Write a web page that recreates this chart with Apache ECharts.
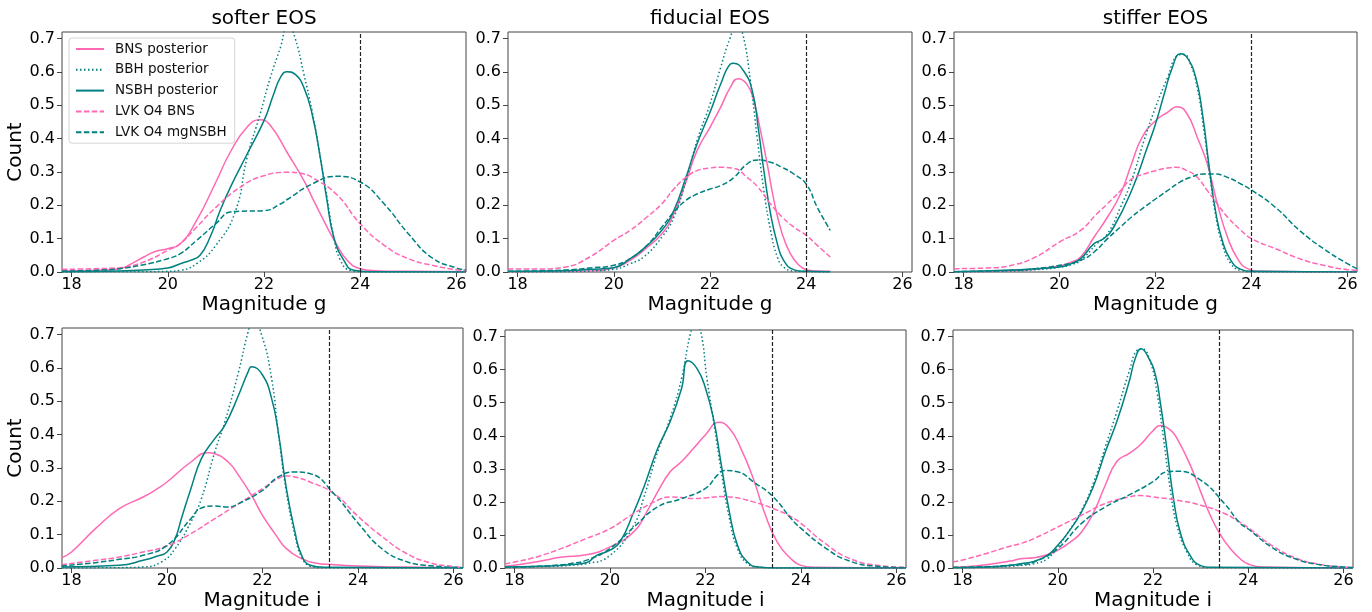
<!DOCTYPE html>
<html>
<head>
<meta charset="utf-8">
<script src="https://cdn.jsdelivr.net/npm/echarts@6/dist/echarts.min.js"></script>
<style>
html, body { margin: 0; padding: 0; background: #fff; }
#chart { width: 1372px; height: 612px; }
</style>
</head>
<body>
<div id="chart"></div>
<script>
var xTicks = [18, 20, 22, 24, 26];
var yTicks = [0, 0.1, 0.2, 0.3, 0.4, 0.5, 0.6, 0.7];
var titles = ['softer EOS', 'fiducial EOS', 'stiffer EOS'];
var xNames = ['Magnitude g', 'Magnitude i'];
var cutoffs = [24, 23.4];
var names = ['BNS posterior', 'BBH posterior', 'NSBH posterior', 'LVK O4 BNS', 'LVK O4 mgNSBH'];

// softer EOS, g band
var softG_bns = [[17.8,0.003],[18.5,0.005],[19,0.01],[19.25,0.025],[19.5,0.045],[19.75,0.062],[20,0.07],[20.26,0.085],[20.6,0.155],[21,0.27],[21.3,0.36],[21.65,0.435],[21.92,0.457],[22.13,0.44],[22.5,0.354],[22.83,0.274],[23,0.224],[23.24,0.155],[23.5,0.085],[23.73,0.035],[24,0.01],[24.3,0.004],[25,0.002],[26.2,0.001]];
var softG_bbh = [[17.8,0],[19,0.001],[19.5,0.001],[20,0.002],[20.26,0.005],[20.6,0.025],[21,0.08],[21.4,0.18],[21.65,0.344],[21.92,0.474],[22.13,0.583],[22.34,0.673],[22.5,0.745],[22.65,0.70],[22.83,0.593],[23,0.483],[23.17,0.344],[23.31,0.224],[23.45,0.105],[23.59,0.035],[23.8,0.005],[24.2,0],[26.2,0]];
var softG_nsbh = [[17.8,0.001],[19,0.003],[19.5,0.006],[20,0.012],[20.26,0.025],[20.47,0.035],[20.67,0.05],[20.88,0.105],[21.09,0.185],[21.3,0.254],[21.65,0.354],[22,0.454],[22.2,0.533],[22.34,0.583],[22.48,0.601],[22.65,0.593],[22.83,0.553],[23,0.474],[23.17,0.344],[23.31,0.214],[23.45,0.105],[23.66,0.035],[23.87,0.005],[24.2,0.001],[26.2,0]];
var softG_lvkBns = [[17.8,0.008],[18.5,0.01],[19,0.013],[19.5,0.03],[20,0.065],[20.26,0.085],[20.6,0.135],[21,0.194],[21.5,0.254],[22,0.289],[22.5,0.299],[22.83,0.294],[23,0.284],[23.5,0.234],[24,0.145],[24.5,0.08],[25,0.04],[25.5,0.02],[26,0.007],[26.2,0.005]];
var softG_lvkNsbh = [[17.8,0.003],[18.5,0.005],[19,0.01],[19.5,0.022],[20,0.04],[20.26,0.055],[20.6,0.095],[21,0.145],[21.3,0.18],[21.5,0.182],[22,0.184],[22.34,0.204],[22.5,0.219],[23,0.264],[23.5,0.287],[24,0.27],[24.5,0.204],[25,0.115],[25.5,0.042],[26,0.012],[26.2,0.006]];

// fiducial EOS, g band
var fidG_bns = [[17.8,0.001],[19,0.002],[19.5,0.003],[20,0.012],[20.34,0.035],[20.62,0.065],[21,0.115],[21.25,0.175],[21.5,0.27],[21.73,0.364],[22,0.434],[22.22,0.494],[22.42,0.553],[22.58,0.58],[22.77,0.563],[22.91,0.514],[23.05,0.424],[23.19,0.324],[23.33,0.214],[23.5,0.115],[23.67,0.055],[23.85,0.02],[24,0.007],[24.2,0.003],[24.5,0.002]];
var fidG_bbh = [[17.8,0],[19,0.001],[19.5,0.003],[20,0.008],[20.34,0.025],[20.62,0.045],[21,0.105],[21.25,0.165],[21.5,0.274],[21.73,0.394],[22,0.504],[22.22,0.613],[22.42,0.703],[22.56,0.745],[22.68,0.715],[22.84,0.573],[22.98,0.404],[23.12,0.244],[23.26,0.125],[23.4,0.045],[23.53,0.015],[23.74,0.003],[24.5,0]];
var fidG_nsbh = [[17.8,0.002],[19,0.004],[19.5,0.008],[20,0.013],[20.34,0.04],[20.62,0.07],[21,0.125],[21.25,0.185],[21.5,0.284],[21.73,0.384],[22,0.479],[22.22,0.563],[22.42,0.623],[22.49,0.626],[22.7,0.603],[22.88,0.543],[23.01,0.424],[23.12,0.304],[23.26,0.174],[23.4,0.085],[23.53,0.035],[23.74,0.007],[23.95,0.002],[24.5,0.001]];
var fidG_lvkBns = [[17.8,0.009],[18.5,0.009],[19,0.015],[19.5,0.045],[20,0.095],[20.34,0.125],[20.69,0.165],[21,0.205],[21.25,0.249],[21.5,0.284],[21.73,0.304],[22,0.312],[22.22,0.314],[22.5,0.311],[22.77,0.284],[23,0.254],[23.26,0.204],[23.5,0.165],[23.74,0.135],[24,0.11],[24.23,0.08],[24.5,0.045]];
var fidG_lvkNsbh = [[17.8,0.002],[19,0.006],[19.5,0.012],[20,0.02],[20.34,0.04],[20.69,0.08],[21,0.135],[21.25,0.18],[21.5,0.215],[21.73,0.234],[22,0.249],[22.22,0.259],[22.5,0.284],[22.77,0.324],[23,0.336],[23.26,0.329],[23.5,0.314],[23.74,0.294],[24,0.264],[24.23,0.194],[24.5,0.125]];

// stiffer EOS, g band
var stiffG_bns = [[17.8,0.001],[19,0.004],[19.5,0.008],[20,0.018],[20.25,0.03],[20.44,0.045],[20.72,0.105],[21,0.165],[21.27,0.234],[21.5,0.324],[21.72,0.404],[22,0.454],[22.25,0.479],[22.45,0.496],[22.66,0.474],[22.87,0.404],[23.08,0.324],[23.29,0.204],[23.5,0.105],[23.71,0.04],[23.92,0.01],[24.2,0.002],[26.2,0]];
var stiffG_bbh = [[17.8,0],[19,0.003],[19.5,0.007],[20,0.014],[20.25,0.022],[20.44,0.035],[20.78,0.085],[21,0.115],[21.27,0.194],[21.5,0.274],[21.76,0.394],[22,0.494],[22.25,0.583],[22.45,0.648],[22.59,0.653],[22.73,0.623],[22.87,0.553],[23.01,0.424],[23.12,0.304],[23.25,0.174],[23.39,0.085],[23.57,0.025],[23.78,0.005],[24.1,0],[26.2,0]];
var stiffG_nsbh = [[17.8,0.001],[19,0.006],[19.5,0.01],[20,0.015],[20.25,0.025],[20.44,0.04],[20.72,0.085],[20.92,0.1],[21.13,0.135],[21.5,0.244],[21.83,0.374],[22,0.444],[22.18,0.533],[22.35,0.613],[22.52,0.655],[22.66,0.643],[22.84,0.583],[22.98,0.474],[23.12,0.314],[23.25,0.184],[23.39,0.095],[23.57,0.035],[23.78,0.008],[24,0.002],[26.2,0]];
var stiffG_lvkBns = [[17.8,0.01],[18.5,0.012],[19,0.02],[19.5,0.045],[20,0.09],[20.44,0.125],[20.78,0.175],[21,0.205],[21.27,0.244],[21.5,0.279],[21.76,0.294],[22,0.304],[22.25,0.312],[22.42,0.314],[22.66,0.304],[22.87,0.284],[23.08,0.244],[23.29,0.204],[23.5,0.165],[23.78,0.125],[24,0.1],[24.5,0.07],[25,0.04],[25.5,0.02],[26,0.007],[26.2,0.005]];
var stiffG_lvkNsbh = [[17.8,0.001],[19,0.005],[19.5,0.01],[20,0.02],[20.44,0.035],[20.72,0.06],[21,0.1],[21.27,0.135],[21.5,0.165],[21.76,0.194],[22,0.219],[22.25,0.244],[22.5,0.269],[22.73,0.284],[23,0.294],[23.22,0.294],[23.5,0.284],[23.78,0.264],[24,0.246],[24.5,0.194],[25,0.125],[25.5,0.07],[26,0.025],[26.2,0.01]];

// softer EOS, i band
var softI_bns = [[17.79,0.031],[18,0.048],[18.5,0.118],[19,0.178],[19.5,0.213],[19.8,0.238],[20,0.258],[20.5,0.318],[20.86,0.346],[21,0.343],[21.28,0.318],[21.5,0.278],[21.77,0.218],[22,0.158],[22.26,0.103],[22.5,0.058],[22.82,0.028],[23.1,0.015],[23.5,0.01],[24,0.006],[24.5,0.004],[25,0.003],[26.2,0.001]];
var softI_bbh = [[17.8,0],[19,0.001],[19.5,0.003],[19.88,0.018],[20.17,0.058],[20.5,0.138],[20.72,0.208],[21,0.348],[21.21,0.438],[21.5,0.589],[21.7,0.709],[21.8,0.745],[21.98,0.7],[22.19,0.569],[22.33,0.408],[22.5,0.228],[22.68,0.098],[22.82,0.033],[23,0.006],[23.3,0],[26.2,0]];
var softI_nsbh = [[17.8,0.003],[19,0.008],[19.5,0.023],[19.8,0.036],[20,0.048],[20.17,0.088],[20.3,0.148],[20.5,0.238],[20.72,0.328],[21,0.388],[21.21,0.428],[21.5,0.519],[21.7,0.589],[21.77,0.604],[22,0.579],[22.19,0.509],[22.33,0.408],[22.5,0.238],[22.68,0.108],[22.82,0.038],[23,0.008],[23.3,0.002],[26.2,0]];
var softI_lvkBns = [[17.79,0.01],[18.5,0.023],[19,0.033],[19.5,0.048],[20,0.066],[20.5,0.103],[21,0.148],[21.5,0.193],[22,0.238],[22.33,0.268],[22.5,0.276],[22.68,0.273],[23,0.258],[23.5,0.223],[24,0.155],[24.5,0.095],[25,0.045],[25.5,0.016],[26,0.004],[26.2,0.002]];
var softI_lvkNsbh = [[17.79,0.006],[18.5,0.016],[19,0.026],[19.5,0.038],[20,0.068],[20.5,0.148],[20.72,0.18],[21,0.186],[21.28,0.183],[21.5,0.193],[22,0.233],[22.33,0.273],[22.68,0.288],[23,0.283],[23.5,0.222],[24,0.135],[24.5,0.058],[25,0.02],[25.5,0.007],[26.2,0.001]];

// fiducial EOS, i band
var fidI_bns = [[17.8,0.005],[18,0.008],[18.5,0.02],[19,0.033],[19.5,0.04],[20,0.064],[20.5,0.11],[20.77,0.17],[21,0.231],[21.26,0.291],[21.5,0.322],[21.75,0.362],[22,0.403],[22.28,0.441],[22.5,0.423],[22.74,0.362],[23,0.271],[23.23,0.17],[23.5,0.079],[23.79,0.028],[24,0.008],[24.3,0.002],[26.2,0]];
var fidI_bbh = [[17.8,0.001],[19,0.006],[19.16,0.008],[19.5,0.013],[20,0.038],[20.5,0.13],[20.7,0.21],[21,0.352],[21.26,0.453],[21.5,0.574],[21.68,0.706],[21.79,0.745],[21.9,0.716],[22.03,0.574],[22.18,0.433],[22.32,0.301],[22.5,0.15],[22.67,0.059],[22.88,0.013],[23.1,0.003],[23.5,0],[26.2,0]];
var fidI_nsbh = [[17.8,0.003],[18.5,0.005],[19,0.008],[19.16,0.01],[19.5,0.016],[19.72,0.038],[20,0.054],[20.21,0.079],[20.5,0.17],[20.7,0.241],[21,0.362],[21.26,0.443],[21.5,0.544],[21.63,0.627],[21.82,0.604],[22,0.544],[22.18,0.443],[22.32,0.322],[22.5,0.17],[22.67,0.069],[22.88,0.018],[23.1,0.003],[23.5,0],[26.2,0]];
var fidI_lvkBns = [[17.8,0.013],[18,0.018],[18.5,0.035],[19,0.06],[19.16,0.069],[19.5,0.089],[20,0.119],[20.5,0.165],[21,0.205],[21.26,0.215],[21.5,0.213],[21.75,0.21],[22,0.212],[22.32,0.216],[22.5,0.215],[23,0.2],[23.5,0.175],[23.79,0.155],[24,0.135],[24.5,0.075],[25,0.03],[25.6,0.008],[26.2,0.002]];
var fidI_lvkNsbh = [[17.8,0.002],[18.5,0.005],[19,0.01],[19.16,0.013],[19.5,0.023],[20,0.059],[20.5,0.124],[21,0.185],[21.5,0.21],[22,0.241],[22.25,0.281],[22.39,0.295],[22.67,0.291],[23,0.261],[23.42,0.215],[23.79,0.15],[24,0.12],[24.5,0.062],[25,0.022],[25.6,0.005],[26.2,0.001]];

// stiffer EOS, i band
var stiffI_bns = [[17.8,0.002],[18,0.003],[18.5,0.01],[19,0.021],[19.22,0.028],[19.5,0.031],[19.78,0.04],[20,0.054],[20.27,0.079],[20.5,0.109],[20.76,0.17],[21,0.251],[21.24,0.322],[21.5,0.347],[21.73,0.372],[22,0.415],[22.15,0.431],[22.36,0.418],[22.5,0.393],[22.78,0.312],[23,0.231],[23.2,0.16],[23.4,0.104],[23.62,0.059],[23.83,0.028],[24,0.012],[24.3,0.003],[26.2,0]];
var stiffI_bbh = [[17.8,0],[18.5,0.002],[19,0.005],[19.22,0.008],[19.5,0.013],[19.78,0.028],[20,0.064],[20.2,0.104],[20.5,0.175],[20.76,0.261],[21,0.367],[21.24,0.473],[21.5,0.595],[21.66,0.658],[21.77,0.663],[21.94,0.625],[22.08,0.534],[22.22,0.393],[22.36,0.241],[22.5,0.13],[22.71,0.049],[22.92,0.01],[23.2,0.001],[26.2,0]];
var stiffI_nsbh = [[17.8,0.001],[18.5,0.003],[19,0.008],[19.22,0.013],[19.5,0.02],[19.78,0.038],[20,0.069],[20.2,0.104],[20.5,0.17],[20.76,0.251],[21,0.352],[21.24,0.443],[21.5,0.564],[21.63,0.635],[21.75,0.663],[21.91,0.635],[22.05,0.585],[22.15,0.504],[22.29,0.362],[22.43,0.21],[22.57,0.109],[22.78,0.038],[22.99,0.008],[23.2,0.002],[26.2,0]];
var stiffI_lvkBns = [[17.8,0.018],[18,0.024],[18.5,0.044],[19,0.066],[19.22,0.074],[19.5,0.089],[20,0.124],[20.5,0.16],[21,0.195],[21.5,0.215],[21.73,0.219],[22,0.215],[22.5,0.205],[23,0.19],[23.5,0.165],[23.83,0.138],[24,0.122],[24.5,0.068],[25,0.03],[25.5,0.011],[26,0.003],[26.2,0.002]];
var stiffI_lvkNsbh = [[17.8,0.002],[18.5,0.004],[19,0.008],[19.22,0.01],[19.5,0.018],[20,0.059],[20.5,0.135],[21,0.185],[21.5,0.221],[22,0.261],[22.29,0.291],[22.5,0.293],[23,0.266],[23.5,0.195],[23.83,0.135],[24,0.118],[24.5,0.062],[25,0.027],[25.5,0.01],[26,0.003],[26.2,0.001]];

var panels = [
  [softG_bns, softG_bbh, softG_nsbh, softG_lvkBns, softG_lvkNsbh],
  [fidG_bns, fidG_bbh, fidG_nsbh, fidG_lvkBns, fidG_lvkNsbh],
  [stiffG_bns, stiffG_bbh, stiffG_nsbh, stiffG_lvkBns, stiffG_lvkNsbh],
  [softI_bns, softI_bbh, softI_nsbh, softI_lvkBns, softI_lvkNsbh],
  [fidI_bns, fidI_bbh, fidI_nsbh, fidI_lvkBns, fidI_lvkNsbh],
  [stiffI_bns, stiffI_bbh, stiffI_nsbh, stiffI_lvkBns, stiffI_lvkNsbh]
];

// layout of the six axes boxes, in pixels
var boxes = [
  {left: 62, top: 32, width: 404, height: 240},
  {left: 508, top: 32, width: 404, height: 240},
  {left: 954, top: 32, width: 403, height: 240},
  {left: 62, top: 328, width: 401, height: 240},
  {left: 505, top: 330, width: 401, height: 238},
  {left: 953, top: 330, width: 400, height: 238}
];

var pink = '#ff69b4', teal = '#008080';
var lineStyles = [
  {color: pink, type: 'solid'},
  {color: teal, type: [1.5, 2.5]},
  {color: teal, type: 'solid'},
  {color: pink, type: [5.5, 2.4]},
  {color: teal, type: [5.5, 2.4]}
];
var font = 'DejaVu Sans';

var grid = [], xAxis = [], yAxis = [], series = [], title = [];

boxes.forEach(function(b, p) {
  var row = p < 3 ? 0 : 1;
  grid.push({left: b.left, top: b.top, width: b.width, height: b.height,
    show: true, borderColor: '#444', borderWidth: 1, backgroundColor: 'transparent'});
  xAxis.push({
    type: 'value', gridIndex: p, min: 17.8, max: 26.2,
    name: xNames[row], nameLocation: 'middle', nameGap: 23,
    nameTextStyle: {fontFamily: font, fontSize: 20, color: '#000'},
    axisLine: {show: false},
    axisTick: {show: true, length: 5, customValues: xTicks, lineStyle: {color: '#444'}},
    axisLabel: {customValues: xTicks, margin: 5, fontFamily: font, fontSize: 16, color: '#000'},
    splitLine: {show: false}
  });
  yAxis.push({
    type: 'value', gridIndex: p, min: 0, max: 0.72,
    name: p % 3 === 0 ? 'Count' : '', nameLocation: 'middle', nameGap: 33, nameRotate: 90,
    nameTextStyle: {fontFamily: font, fontSize: 20, color: '#000'},
    axisLine: {show: false},
    axisTick: {show: true, length: 5, customValues: yTicks, lineStyle: {color: '#444'}},
    axisLabel: {customValues: yTicks, margin: 7, fontFamily: font, fontSize: 16, color: '#000',
      formatter: function(v) { return v.toFixed(1); }},
    splitLine: {show: false}
  });
  panels[p].forEach(function(curve, k) {
    var s = {
      type: 'line', name: names[k], xAxisIndex: p, yAxisIndex: p,
      data: curve, symbol: 'none', smooth: 0.5, clip: true,
      lineStyle: {color: lineStyles[k].color, type: lineStyles[k].type, width: 1.5},
      itemStyle: {color: lineStyles[k].color},
      emphasis: {disabled: true}
    };
    if (k === 0) {
      s.markLine = {
        silent: true, symbol: ['none', 'none'], label: {show: false},
        lineStyle: {color: '#222', type: [4, 2], width: 1.2},
        data: [{xAxis: cutoffs[row]}]
      };
    }
    series.push(s);
  });
  if (row === 0) {
    title.push({
      text: titles[p], left: b.left + b.width / 2, top: 9, textAlign: 'center', padding: 0,
      textStyle: {fontFamily: font, fontSize: 20, fontWeight: 'normal', color: '#000'}
    });
  }
});

var chart = echarts.init(document.getElementById('chart'));
chart.setOption({
  animation: false,
  backgroundColor: '#fff',
  title: title,
  grid: grid,
  xAxis: xAxis,
  yAxis: yAxis,
  legend: {
    data: names, orient: 'vertical', left: 69, top: 38,
    itemWidth: 28, itemHeight: 14, itemGap: 6.8,
    padding: [4, 8, 4, 6],
    itemStyle: {opacity: 0},
    backgroundColor: '#fff', borderColor: '#d5d5d5', borderWidth: 1, borderRadius: 3,
    textStyle: {fontFamily: font, fontSize: 13.5, color: '#111', padding: [0, 0, 0, 6]},
    selectedMode: false
  },
  series: series
});
</script>
</body>
</html>
